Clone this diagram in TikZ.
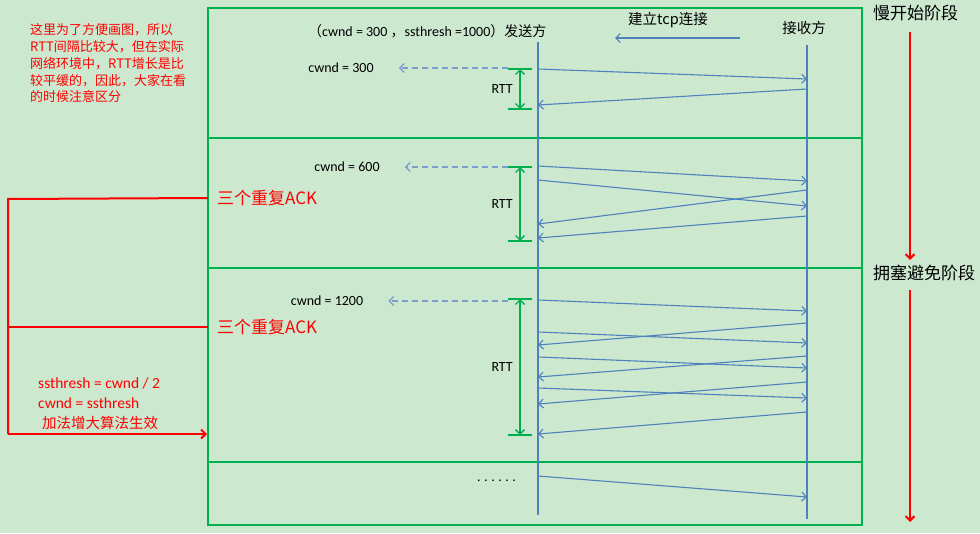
\documentclass[tikz,border=0pt]{standalone}
\usepackage{fontspec}
\setmainfont{Carlito}
\newfontfamily\cjk{Noto Sans CJK SC}
\usetikzlibrary{arrows.meta,positioning}

\definecolor{bggreen}{RGB}{204,232,207}
\definecolor{boxgreen}{RGB}{0,176,80}
\definecolor{lineblue}{RGB}{79,129,189}
\definecolor{dashblue}{RGB}{125,155,205}

\begin{document}
\begin{tikzpicture}[x=1pt,y=-1pt,>={Straight Barb[length=4.5pt,width=9pt]},
    boxline/.style={draw=boxgreen,line width=2.6pt},
    life/.style={draw=lineblue,line width=2pt},
    msg/.style={draw=lineblue,line width=1.1pt,->},
    win/.style={draw=dashblue,line width=1.2pt,dash pattern=on 6pt off 4pt,->},
    tickline/.style={draw=boxgreen,line width=2.8pt},
    rtt/.style={draw=boxgreen,line width=1.4pt,<->},
    redline/.style={draw=red,line width=2pt},
    txt/.style={font=\fontsize{14}{16}\selectfont,inner sep=0pt},
    zh/.style={font=\cjk\fontsize{14.5}{17}\selectfont,inner sep=0pt},
    zhbig/.style={font=\cjk\fontsize{17}{20}\selectfont,inner sep=0pt}]

    \fill[bggreen] (0,0) rectangle (980,533);
    \useasboundingbox (0,0) rectangle (980,533);

    % frame and phases
    \draw[boxline] (208,8) rectangle (862,525);
    \foreach \y in {138,268,462}
      \draw[boxline] (208,\y) -- (862,\y);

    % sender and receiver
    \coordinate (snd) at (538,42);
    \coordinate (sndend) at (538,515);
    \coordinate (rcv) at (807,45);
    \coordinate (rcvend) at (807,519);
    \draw[life] (snd) -- (sndend);
    \draw[life] (rcv) -- (rcvend);

    \node[txt,anchor=west] (head) at (308,31)
      {{\cjk （}cwnd = 300 {\cjk ，}ssthresh =1000{\cjk ）发送方}};
    \node[zh] (recv) at (804,28) {接收方};
    \node[zh] (conn) at (668,20) {建立tcp连接};
    \coordinate (conn1) at (740,38);
    \coordinate (conn2) at (615,38);
    \draw[msg] (conn1) -- (conn2);

    % segments and acks
    \foreach \a/\b in {69/79,166/181,180/206,300/311,332/343,357/368,388/398,476/497}
      \draw[msg] (snd |- 0,\a) -- (rcv |- 0,\b);
    \foreach \a/\b in {89/105,190/224,216/238,323/345,356/377,382/404,412/434}
      \draw[msg] (rcv |- 0,\a) -- (snd |- 0,\b);

    % rtt marks and windows
    \foreach \i/\t/\b/\w/\lx/\ly in {1/69/109/300/341/68,2/167/241/600/347/167,3/299/435/1200/327/301} {
      \coordinate (t\i) at (508,\t);
      \coordinate (b\i) at (508,\b);
      \draw[tickline] (t\i) -- ++(24,0);
      \draw[tickline] (b\i) -- ++(24,0);
      \draw[rtt] ([xshift=12pt]t\i) -- ([xshift=12pt]b\i);
      \node[txt,anchor=east] (rtt\i) at (513,{(\t+\b)/2}) {RTT};
      \node[txt] (cw\i) at (\lx,\ly) {cwnd = \w};
      \draw[win] (t\i |- 0,\ly) -- ([xshift=25pt]cw\i.east);
    }

    \node[txt,anchor=base west] (more) at (477,481) {\addfontfeature{LetterSpace=25}......};

    % note
    \node[anchor=north west,align=left,text=red,inner sep=0pt,
          font=\cjk\fontsize{13}{16.8}\selectfont] (note) at (30,23.5)
      {这里为了方便画图，所以\\RTT间隔比较大，但在实际\\网络环境中，RTT增长是比\\较平缓的，因此，大家在看\\的时候注意区分};

    % triple ack
    \node[zhbig,red,anchor=west] (ack1) at (217,198) {三个重复ACK};
    \node[zhbig,red,anchor=west] (ack2) at (217,327) {三个重复ACK};
    \coordinate (lt) at (8,199);
    \coordinate (lm) at (8,327);
    \coordinate (lb) at (8,434);
    \coordinate (fx) at (207,434);
    \draw[redline] ([xshift=-9pt]ack1.west) -- (lt) -- (lb);
    \draw[redline] ([xshift=-9pt]ack2.west) -- (lm);
    \draw[redline,->] (lb) -- (fx);

    \node[txt,red,anchor=west,font=\fontsize{15.5}{18}\selectfont] (rule1) at (38,383) {ssthresh = cwnd / 2};
    \node[txt,red,anchor=west,font=\fontsize{15.5}{18}\selectfont] (rule2) at (38,403) {cwnd = ssthresh};
    \node[zh,red,anchor=west] (rule3) at (42,423) {加法增大算法生效};

    % phases
    \node[zhbig,anchor=west] (slow) at (873,13) {慢开始阶段};
    \node[zhbig,anchor=west] (avoid) at (873,273) {拥塞避免阶段};
    \coordinate (s0) at (910,32);
    \coordinate (s1) at (910,260);
    \coordinate (s2) at (910,290);
    \coordinate (s3) at (910,522);
    \draw[redline,->] (s0) -- (s1);
    \draw[redline,->] (s2) -- (s3);
\end{tikzpicture}
\end{document}
